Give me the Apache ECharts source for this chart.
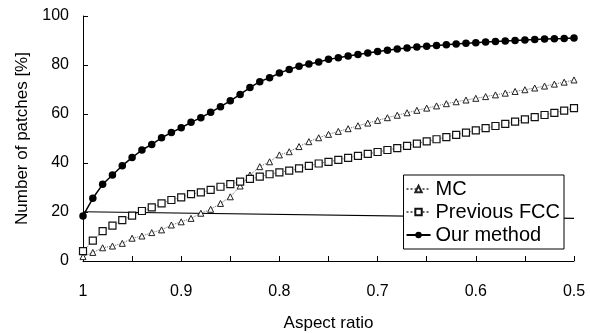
<!DOCTYPE html>
<html>
<head>
<meta charset="utf-8">
<script src="https://cdn.jsdelivr.net/npm/echarts@6/dist/echarts.min.js"></script>
<style>
  html, body { margin: 0; padding: 0; background: #fff; }
  #chart { width: 590px; height: 333px; }
</style>
</head>
<body>
<div id="chart"></div>
<script>
// aspect ratio (x), from 1 down to 0.5
var aspect = [1.00, 0.99, 0.98, 0.97, 0.96, 0.95, 0.94, 0.93, 0.92, 0.91,
              0.90, 0.89, 0.88, 0.87, 0.86, 0.85, 0.84, 0.83, 0.82, 0.81,
              0.80, 0.79, 0.78, 0.77, 0.76, 0.75, 0.74, 0.73, 0.72, 0.71,
              0.70, 0.69, 0.68, 0.67, 0.66, 0.65, 0.64, 0.63, 0.62, 0.61,
              0.60, 0.59, 0.58, 0.57, 0.56, 0.55, 0.54, 0.53, 0.52, 0.51, 0.50];

// MC
var mc = [1.8, 3.5, 5.4, 6.1, 7.2, 9.3, 10.2, 11.6, 12.7, 14.7,
          16.0, 17.4, 19.5, 21.1, 23.5, 26.2, 30.6, 35.1, 38.5, 40.5,
          43.3, 44.6, 46.7, 48.7, 50.3, 51.7, 52.9, 54.0, 55.2, 56.3,
          57.4, 58.5, 59.5, 60.5, 61.5, 62.4, 63.3, 64.2, 65.0, 65.7,
          66.4, 67.1, 67.8, 68.5, 69.2, 69.9, 70.6, 71.4, 72.2, 73.0, 73.9];

// Previous FCC
var fcc = [4.0, 8.3, 12.2, 14.4, 16.7, 18.5, 20.4, 21.9, 23.5, 24.9,
           26.0, 27.3, 28.0, 29.0, 30.3, 31.4, 32.4, 33.5, 34.4, 35.4,
           36.2, 36.9, 37.8, 38.8, 39.8, 40.5, 41.3, 42.1, 42.9, 43.7,
           44.5, 45.3, 46.1, 47.0, 47.9, 48.8, 49.7, 50.6, 51.5, 52.4,
           53.3, 54.2, 55.1, 56.0, 56.9, 57.8, 58.7, 59.6, 60.5, 61.4, 62.4];

// Our method
var ours = [18.4, 25.6, 31.3, 35.1, 38.9, 42.2, 45.3, 47.6, 50.3, 52.4,
            54.4, 56.6, 58.5, 60.7, 63.0, 65.4, 68.0, 70.8, 73.2, 74.8,
            76.7, 78.2, 79.5, 80.4, 81.2, 82.3, 83.0, 83.7, 84.3, 84.9,
            85.5, 86.0, 86.5, 86.9, 87.3, 87.7, 88.0, 88.3, 88.6, 88.9,
            89.1, 89.4, 89.6, 89.8, 90.0, 90.2, 90.4, 90.6, 90.7, 90.8, 91.0];

// reference line across the plot
var refX = [1.0, 0.5];
var refY = [20.1, 17.4];

var yTicks = [0, 20, 40, 60, 80, 100];

function pairs(xs, ys) {
    var out = [];
    for (var i = 0; i < xs.length; i++) out.push([xs[i], ys[i]]);
    return out;
}

var font = 'Liberation Sans, Arial, sans-serif';
var chart = echarts.init(document.getElementById('chart'));

chart.setOption({
    animation: false,
    backgroundColor: '#fff',
    textStyle: { fontFamily: font, color: '#000' },
    grid: { left: 83, right: 16, top: 16, bottom: 72, outerBoundsMode: 'none' },
    legend: {
        orient: 'vertical',
        right: 26,
        top: 175,
        backgroundColor: '#fff',
        borderColor: '#000',
        borderWidth: 1,
        padding: [4, 4, 4, 2],
        itemGap: 3,
        itemWidth: 24,
        itemHeight: 8,
        textStyle: { fontSize: 20, color: '#000', fontFamily: font },
        data: ['MC', 'Previous FCC', 'Our method']
    },
    xAxis: {
        type: 'value',
        inverse: true,
        min: 0.5,
        max: 1,
        interval: 0.05,
        name: 'Aspect ratio',
        nameLocation: 'middle',
        nameGap: 54,
        nameTextStyle: { fontSize: 17, color: '#000' },
        axisLine: { lineStyle: { color: '#000', width: 1 } },
        axisTick: { inside: true, length: 5, lineStyle: { color: '#000' } },
        splitLine: { show: false },
        axisLabel: {
            fontSize: 16, color: '#000', margin: 23,
            formatter: function (v) {
                var t = v * 10;
                if (Math.abs(t - Math.round(t)) > 1e-6) return '';
                return String(+v.toFixed(1));
            }
        }
    },
    yAxis: {
        type: 'value',
        min: yTicks[0],
        max: yTicks[yTicks.length - 1],
        interval: 20,
        name: 'Number of patches [%]',
        nameLocation: 'middle',
        nameGap: 52,
        nameTextStyle: { fontSize: 17, color: '#000' },
        axisLine: { show: true, lineStyle: { color: '#000', width: 1 } },
        axisTick: { show: true, inside: true, length: 5, lineStyle: { color: '#000' } },
        splitLine: { show: false },
        axisLabel: { fontSize: 16, color: '#000', margin: 14 }
    },
    series: [
        {
            name: 'ref',
            type: 'line',
            data: pairs(refX, refY),
            symbol: 'none',
            lineStyle: { color: '#000', width: 1.2 },
            z: 1
        },
        {
            name: 'MC',
            type: 'line',
            data: pairs(aspect, mc),
            symbol: 'triangle',
            symbolSize: 6,
            itemStyle: { color: '#fff', borderColor: '#222', borderWidth: 1 },
            lineStyle: { color: '#666', width: 1, type: 'dotted' }
        },
        {
            name: 'Previous FCC',
            type: 'line',
            data: pairs(aspect, fcc),
            symbol: 'rect',
            symbolSize: 7,
            itemStyle: { color: '#fff', borderColor: '#111', borderWidth: 1.2 },
            lineStyle: { color: '#666', width: 1, type: 'dotted' }
        },
        {
            name: 'Our method',
            type: 'line',
            data: pairs(aspect, ours),
            symbol: 'circle',
            symbolSize: 7.5,
            itemStyle: { color: '#000' },
            lineStyle: { color: '#000', width: 1.5 }
        }
    ]
});
</script>
</body>
</html>
